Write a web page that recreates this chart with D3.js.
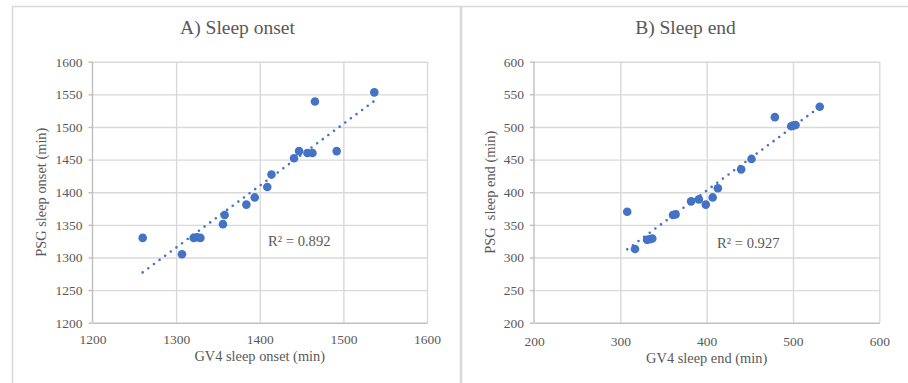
<!DOCTYPE html>
<html>
<head>
<meta charset="utf-8">
<script src="https://cdn.jsdelivr.net/npm/d3@7/dist/d3.min.js"></script>
<style>
  body { margin: 0; background: #fff; }
  svg text { font-family: "Liberation Serif", "Times New Roman", serif; fill: #595959; }
</style>
</head>
<body>
<div id="chart"></div>
<script>
// A) sleep onset: GV4 vs PSG (min)
var onsetGV4 = [1260, 1307, 1321, 1325, 1329, 1356, 1358, 1384, 1394, 1409, 1414, 1441, 1447, 1457, 1463, 1466, 1492, 1537];
var onsetPSG = [1330, 1305, 1330, 1331, 1330, 1351, 1365, 1381, 1392, 1408, 1427, 1452, 1463, 1460, 1460, 1539, 1463, 1553];
var onsetTicks = [1200, 1250, 1300, 1350, 1400, 1450, 1500, 1550, 1600];
var onsetXTicks = [1200, 1300, 1400, 1500, 1600];

// B) sleep end
var endGV4 = [308, 317, 331, 334, 337, 361, 364, 382, 391, 399, 407, 413, 440, 452, 479, 498, 500, 503, 531];
var endPSG = [370, 313, 327, 328, 329, 365, 366, 386, 389, 381, 392, 406, 435, 451, 515, 501, 502, 503, 531];
var endTicks = [200, 250, 300, 350, 400, 450, 500, 550, 600];
var endXTicks = [200, 300, 400, 500, 600];

var titles = ["A) Sleep onset", "B) Sleep end"];
var xTitles = ["GV4 sleep onset (min)", "GV4 sleep end (min)"];
var yTitles = ["PSG sleep onset (min)", "PSG  sleep end (min)"];
var r2Labels = ["R\u00B2 = 0.892", "R\u00B2 = 0.927"];

var W = 908, H = 383;
var blue = "#4472C4";
var serif = '"Liberation Serif", "Times New Roman", serif';

var svg = d3.select("#chart").append("svg")
  .attr("width", W)
  .attr("height", H);

// panel frames
svg.append("rect").attr("x", 12.5).attr("y", 6.5).attr("width", 448).attr("height", 400)
  .attr("fill", "none").attr("stroke", "#d9d9d9").attr("stroke-width", 1.5);
svg.append("rect").attr("x", 461.5).attr("y", 6.5).attr("width", 460).attr("height", 400)
  .attr("fill", "none").attr("stroke", "#d9d9d9").attr("stroke-width", 1.5);

function drawPanel(p) {
  var x = d3.scaleLinear().domain([p.xTicks[0], p.xTicks[p.xTicks.length - 1]]).range([p.left, p.right]);
  var y = d3.scaleLinear().domain([p.yTicks[0], p.yTicks[p.yTicks.length - 1]]).range([p.bottom, p.top]);
  var g = svg.append("g");

  // gridlines
  g.append("g")
    .attr("transform", "translate(" + p.left + ",0)")
    .call(d3.axisLeft(y).tickValues(p.yTicks.slice(1)).tickSize(-(p.right - p.left)).tickFormat(""))
    .call(function(s) {
      s.select(".domain").remove();
      s.selectAll("line").attr("stroke", "#d9d9d9").attr("stroke-width", 1.4);
    });
  g.append("g")
    .attr("transform", "translate(0," + p.bottom + ")")
    .call(d3.axisBottom(x).tickValues(p.xTicks.slice(1)).tickSize(-(p.bottom - p.top)).tickFormat(""))
    .call(function(s) {
      s.select(".domain").remove();
      s.selectAll("line").attr("stroke", "#d9d9d9").attr("stroke-width", 1.4);
    });

  // y axis with outward ticks
  g.append("g")
    .attr("transform", "translate(" + p.left + ",0)")
    .call(d3.axisLeft(y).tickValues(p.yTicks).tickSize(4).tickPadding(6).tickFormat(d3.format("d")))
    .attr("font-family", serif)
    .attr("font-size", 13.5)
    .call(function(s) {
      s.select(".domain").attr("stroke", "#bfbfbf").attr("stroke-width", 1.4).attr("d", "M0," + p.top + "V" + p.bottom);
      s.selectAll("line").attr("stroke", "#bfbfbf").attr("stroke-width", 1.4);
      s.selectAll("text").attr("fill", "#595959");
    });

  // x axis
  g.append("g")
    .attr("transform", "translate(0," + p.bottom + ")")
    .call(d3.axisBottom(x).tickValues(p.xTicks).tickSize(0).tickPadding(p.xPad).tickFormat(d3.format("d")))
    .attr("font-family", serif)
    .attr("font-size", 13.5)
    .call(function(s) {
      s.select(".domain").attr("stroke", "#bfbfbf").attr("stroke-width", 1.4);
      s.selectAll("text").attr("fill", "#595959");
    });

  // trendline from least squares fit of the points
  var mx = d3.mean(p.xs), my = d3.mean(p.ys);
  var sxy = d3.sum(p.xs, function(v, i) { return (v - mx) * (p.ys[i] - my); });
  var sxx = d3.sum(p.xs, function(v) { return (v - mx) * (v - mx); });
  var slope = sxy / sxx, icpt = my - slope * mx;
  var ext = d3.extent(p.xs);
  g.append("line")
    .attr("x1", x(ext[0])).attr("y1", y(icpt + slope * ext[0]))
    .attr("x2", x(ext[1])).attr("y2", y(icpt + slope * ext[1]))
    .attr("stroke", blue).attr("stroke-width", 2.6)
    .attr("stroke-linecap", "round")
    .attr("stroke-dasharray", "0 7");

  // points
  g.selectAll("circle.pt")
    .data(p.xs)
    .enter()
    .append("circle")
      .attr("class", "pt")
      .attr("cx", function(d) { return x(d); })
      .attr("cy", function(d, i) { return y(p.ys[i]); })
      .attr("r", 4.3)
      .attr("fill", blue);

  // texts
  g.append("text")
    .attr("x", p.titleX).attr("y", 34)
    .attr("text-anchor", "middle")
    .attr("font-size", "19.5px")
    .text(p.title);
  g.append("text")
    .attr("x", (p.left + p.right) / 2).attr("y", p.xTitleY)
    .attr("text-anchor", "middle")
    .attr("font-size", "14.4px")
    .text(p.xTitle);
  g.append("text")
    .attr("transform", "translate(" + p.yTitleX + "," + ((p.top + p.bottom) / 2) + ") rotate(-90)")
    .attr("text-anchor", "middle")
    .attr("font-size", "14.4px")
    .style("white-space", "pre")
    .text(p.yTitle);
  g.append("text")
    .attr("x", p.r2X).attr("y", p.r2Y)
    .attr("font-size", "14.6px")
    .text(p.r2);
}

drawPanel({
  xs: onsetGV4, ys: onsetPSG, xTicks: onsetXTicks, yTicks: onsetTicks,
  left: 92.5, right: 427, top: 61.7, bottom: 322.7, xPad: 12,
  title: titles[0], titleX: 237.5, xTitle: xTitles[0], xTitleY: 361,
  yTitle: yTitles[0], yTitleX: 46, r2: r2Labels[0], r2X: 268, r2Y: 246
});
drawPanel({
  xs: endGV4, ys: endPSG, xTicks: endXTicks, yTicks: endTicks,
  left: 534, right: 879.3, top: 61.7, bottom: 322.7, xPad: 14,
  title: titles[1], titleX: 685.5, xTitle: xTitles[1], xTitleY: 363,
  yTitle: yTitles[1], yTitleX: 495, r2: r2Labels[1], r2X: 717, r2Y: 248
});
</script>
</body>
</html>
